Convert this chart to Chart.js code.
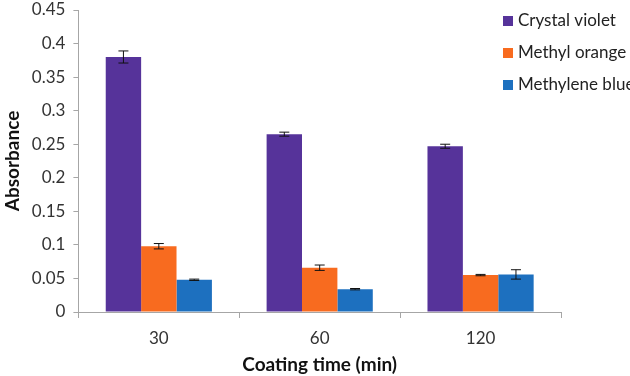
<!DOCTYPE html>
<html>
<head>
<meta charset="utf-8">
<title>Absorbance vs coating time</title>
<script src="https://cdn.jsdelivr.net/npm/chart.js@4"></script>
<style>
    body { margin: 0; background: #fff; }
    #wrap { width: 630px; height: 376px; position: relative; }
</style>
</head>
<body>
<div id="wrap"><canvas id="absChart"></canvas></div>
<script>
// ---------- Data ----------
const categories = ["30", "60", "120"];
const seriesNames = ["Crystal violet", "Methyl orange", "Methylene blue"];
const crystalViolet = [0.380, 0.265, 0.247];
const methylOrange = [0.098, 0.066, 0.055];
const methyleneBlue = [0.048, 0.034, 0.056];
const crystalVioletErr = [0.009, 0.003, 0.003];
const methylOrangeErr = [0.004, 0.004, 0.001];
const methyleneBlueErr = [0.001, 0.001, 0.007];
const yTicks = [0, 0.05, 0.1, 0.15, 0.2, 0.25, 0.3, 0.35, 0.4, 0.45];

const colors = ["#56339a", "#f86b1f", "#1d70bf"];
const fontFamily = "Lato, 'Open Sans', sans-serif";

// ---------- Error bars plugin ----------
const errorBars = {
    id: "errorBars",
    afterDatasetsDraw(chart) {
        const ctx = chart.ctx;
        const yScale = chart.scales.y;
        chart.data.datasets.forEach((ds, i) => {
            const meta = chart.getDatasetMeta(i);
            meta.data.forEach((bar, j) => {
                const v = ds.data[j];
                const e = ds.errors[j];
                const top = yScale.getPixelForValue(v + e);
                const bot = yScale.getPixelForValue(v - e);
                ctx.save();
                ctx.strokeStyle = "#111";
                ctx.lineWidth = 1;
                ctx.beginPath();
                ctx.moveTo(bar.x, top);
                ctx.lineTo(bar.x, bot);
                ctx.moveTo(bar.x - 5, top);
                ctx.lineTo(bar.x + 5, top);
                ctx.moveTo(bar.x - 5, bot);
                ctx.lineTo(bar.x + 5, bot);
                ctx.stroke();
                ctx.restore();
            });
        });
    }
};

// ---------- Legend (drawn by hand, clipped by canvas edge) ----------
const sideLegend = {
    id: "sideLegend",
    afterDraw(chart) {
        const ctx = chart.ctx;
        const x = chart.chartArea.right - 58;
        ctx.save();
        ctx.font = "17px " + fontFamily;
        ctx.textBaseline = "middle";
        chart.data.datasets.forEach((ds, i) => {
            const y = 21 + i * 32;
            ctx.fillStyle = ds.backgroundColor;
            ctx.fillRect(x, y - 5, 10, 10);
            ctx.fillStyle = "#222";
            ctx.fillText(ds.label, x + 15, y);
        });
        ctx.restore();
    }
};

// ---------- Chart ----------
const errorsList = [crystalVioletErr, methylOrangeErr, methyleneBlueErr];
const valuesList = [crystalViolet, methylOrange, methyleneBlue];

const ctx = document.getElementById("absChart").getContext("2d");

const absChart = new Chart(ctx, {
    type: "bar",
    data: {
        labels: categories,
        datasets: seriesNames.map((name, i) => ({
            label: name,
            data: valuesList[i],
            errors: errorsList[i],
            backgroundColor: colors[i],
            borderWidth: 0,
            categoryPercentage: 0.66,
            barPercentage: 1.0
        }))
    },
    options: {
        responsive: true,
        maintainAspectRatio: false,
        animation: false,
        layout: {
            padding: { top: 10, right: 69, bottom: 0, left: 1 }
        },
        plugins: {
            legend: { display: false },
            tooltip: { enabled: false }
        },
        scales: {
            x: {
                grid: {
                    display: true,
                    drawOnChartArea: false,
                    drawTicks: true,
                    tickLength: 6,
                    offset: true,
                    color: "#a6a6a6"
                },
                border: { color: "#a6a6a6" },
                ticks: {
                    color: "#333",
                    font: { family: fontFamily, size: 17 },
                    padding: 10
                },
                title: {
                    display: true,
                    text: "Coating time (min)",
                    color: "#111",
                    font: { family: fontFamily, size: 19, weight: "bold" },
                    padding: { top: 0, bottom: 0 }
                },
                afterFit(axis) {
                    // keep the axis box tight to labels + title
                    axis.height = 64;
                }
            },
            y: {
                min: 0,
                max: 0.45,
                afterBuildTicks(axis) {
                    axis.ticks = yTicks.map(v => ({ value: v }));
                },
                afterFit(axis) {
                    // no extra room above the top tick label
                    axis.paddingTop = 0;
                    axis.paddingBottom = 0;
                },
                grid: {
                    display: true,
                    drawOnChartArea: false,
                    drawTicks: true,
                    tickLength: 5,
                    color: "#a6a6a6"
                },
                border: { color: "#a6a6a6" },
                ticks: {
                    color: "#333",
                    font: { family: fontFamily, size: 17 },
                    padding: 8,
                    callback: v => String(v)
                },
                title: {
                    display: true,
                    text: "Absorbance",
                    color: "#111",
                    font: { family: fontFamily, size: 19, weight: "bold" },
                    padding: { top: 0, bottom: 0 }
                }
            }
        }
    },
    plugins: [errorBars, sideLegend]
});
</script>
</body>
</html>
